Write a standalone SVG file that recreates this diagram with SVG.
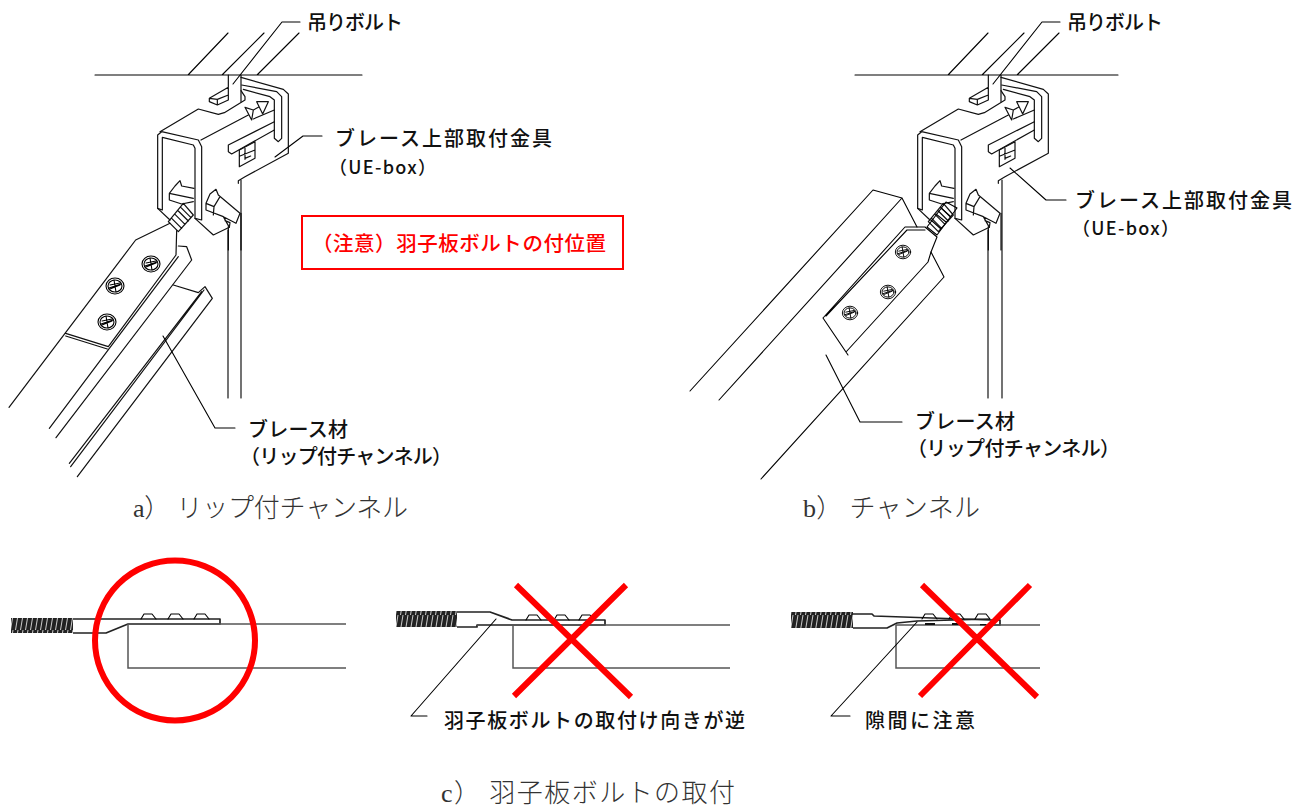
<svg xmlns="http://www.w3.org/2000/svg" width="1295" height="808" viewBox="0 0 1295 808">
<style>
.l{fill:none;stroke:#000;stroke-width:1.1;stroke-linejoin:round;stroke-linecap:round}
.h{fill:none;stroke:#222;stroke-width:1.7;stroke-linejoin:round}
.z{fill:none;stroke:#111;stroke-width:3.6;stroke-linejoin:round;stroke-linecap:round}
.g{fill:none;stroke:#555;stroke-width:1.5}
.x{stroke:#f00;stroke-width:6;fill:none}
.t{font-family:"Noto Sans CJK JP","Noto Sans",sans-serif;font-size:20px;font-weight:500;fill:#111}
.c{font-family:"Liberation Serif","Noto Sans CJK JP",serif;font-size:26px;fill:#333;font-weight:300}
.r{font-family:"Noto Sans CJK JP","Noto Sans",sans-serif;font-size:20.5px;font-weight:500;fill:#f00}
</style>
<defs>
<pattern id="th" patternUnits="userSpaceOnUse" width="5" height="15"><rect width="5" height="15" fill="#222"/><path d="M0.5 15L3 0" stroke="#ccc" stroke-width="1"/></pattern>
<g id="box" transform="translate(130 50) scale(.33333)">
<path class="z" d="M333 82L460 118L475 132V310L345 380L325 392V400"/>
<path class="z" d="M335 105L440 125L455 140V265L445 275L433 265V150L420 140L340 118"/>
<path class="z" d="M333 122L345 140V150L283 188L265 193L205 177L90 245"/>
<path class="z" d="M213 270L355 195M370 207L433 180"/>
<path class="z" d="M345 172L370 180L365 210ZM380 155L415 155L398 192ZM370 180L385 172"/>
<path class="z" d="M83 255L95 245L205 270L215 290V510L195 505V295L190 285L97 262V480L83 475V255"/>
<path class="z" d="M83 475L120 510M195 505L250 555L298 532"/>
<path class="z" d="M295 285L433 215M295 285V305L305 312L433 240"/>
<path class="z" d="M328 350V300L375 275V325L328 350M345 295V328M345 325L362 318M330 318L375 300"/>
<path class="z" d="M295 75V150M333 75V155M295 112L238 145V155L262 165V148L238 145M262 148L295 135M262 165L295 150"/>
<path class="z" d="M118 430L135 408L150 392L155 408L192 415M118 430V450L155 462L190 455M118 430L190 445"/>
<path class="z" d="M228 460L240 432L258 418L265 435L330 490L318 520L280 500L228 480ZM228 460L252 470L270 440M252 470L250 495M280 500L298 532L300 518L285 512"/>
<path class="z" d="M115 515L145 545L190 495L160 460ZM125 505L155 535M135 493L165 523M145 483L175 513M153 473L183 503"/>
<path class="z" d="M295 530V600M333 490V600"/>
</g>
<g id="screw"><ellipse rx="9" ry="8" class="l"/><ellipse rx="7" ry="6" class="l"/><path class="l" d="M-6 2L6 -2M-1 -6L1 6M-5 -1L5 -3M-5 3L5 -1"/></g>
<g id="bump"><path class="l" d="M0 6L3 1H11L15 6"/></g>
</defs>

<g id="left-assembly">
<g id="ceiling-a"><path class="l" d="M95 75H362M188 75L228 33M222 75L264 33M257 75L299 33"/></g>
<use href="#box"/>
<g id="post-a"><path class="l" d="M228 230V398M241 398V180"/></g>
<g id="bracket-a" transform="translate(0 210) scale(.33333)">
<path class="z" d="M27 592L407 90L510 40M530 62L528 135L325 410L197 370M197 378L322 417"/>
<path class="z" d="M535 108L560 110L575 150L168 683M535 140L328 415L148 655"/>
<path class="z" d="M520 225L595 248L615 230L637 265L232 800M605 245L208 760M612 240L212 770"/>
</g>
<use href="#screw" x="151" y="264"/><use href="#screw" x="115" y="286"/><use href="#screw" x="107" y="322"/>
</g>

<g id="right-assembly">
<g id="ceiling-b"><path class="l" d="M855 75H1118M948 75L988 33M982 75L1024 33M1017 75L1059 33"/></g>
<use href="#box" x="760"/>
<g id="post-b"><path class="l" d="M988 230V398M1002 398V180"/></g>
<g id="bracket-b">
<path class="l" d="M690 391L873 190L902 198L917 227M719 400L902 198"/>
<path class="l" d="M905 227H925L937 237L931 252L928 262L846 352L823 318L905 227M826 316L907 230H925M823 318L848 355"/>
<path class="l" d="M931 252L944 277L761 479"/>
<path class="l" d="M927 227L937 235L957 208L946 202ZM931 220L941 229M936 214L946 222M941 208L950 216"/>
</g>
<use href="#screw" transform="translate(903 252) scale(.85)"/><use href="#screw" transform="translate(888 292) scale(.85)"/><use href="#screw" transform="translate(850 313) scale(.85)"/>
</g>

<g id="detail-good">
<rect x="11" y="618" width="62" height="15" fill="url(#th)"/>
<path class="h" d="M73 619H220V624H128L106 633H73"/>
<path class="g" d="M128 624H346M128 624V668H346"/>
<use href="#bump" x="141" y="613"/><use href="#bump" x="168" y="613"/><use href="#bump" x="194" y="613"/>
<circle cx="175" cy="640.5" r="80" class="x"/>
</g>

<g id="detail-reversed">
<rect x="396" y="611" width="61" height="16" fill="url(#th)"/>
<path class="h" d="M457 612H490L512 620H605V625H477V627H457"/>
<path class="g" d="M477 625H730M513 625V668H730"/>
<use href="#bump" x="526" y="614"/><use href="#bump" x="554" y="614"/><use href="#bump" x="579" y="614"/>
<path class="x" d="M514 696L626 585M516 585L631 697"/>
</g>

<g id="detail-gap">
<rect x="791" y="612" width="62" height="16" fill="url(#th)"/>
<path class="h" d="M853 614H872L874 616L990 620H1000V625H980M853 628H887L897 623L917 621L990 619"/>
<path class="g" d="M896 625H1040M896 625V668H1040"/>
<path d="M925 623H935V625H925ZM952 623H960V625H952ZM980 624H986V625H980Z" fill="#111"/>
<use href="#bump" x="922" y="613"/><use href="#bump" x="949" y="613"/><use href="#bump" x="975" y="613"/>
<path class="x" d="M920 696L1030 585M922 585L1037 697"/>
</g>

<g id="connectors">
<path class="l" d="M233 84L282 22H300M275 157L303 136H322M163 336L215 428H235"/>
<path class="l" d="M993 84L1042 22H1060M1010 168L1046 200H1066M826 355L860 422H902"/>
<path class="l" d="M496 619L411 716H427M917 622L831 716H850"/>
</g>

<g id="labels">
<text class="t" x="307" y="30" textLength="96">吊りボルト</text>
<text class="t" x="1067" y="30" textLength="96">吊りボルト</text>
<text class="t" x="335" y="146" textLength="217">ブレース上部取付金具</text>
<text class="t" x="329" y="174" textLength="107" style="font-size:18px">（UE-box）</text>
<text class="t" x="1075" y="208" textLength="217">ブレース上部取付金具</text>
<text class="t" x="1072" y="235" textLength="107" style="font-size:18px">（UE-box）</text>
<text class="t" x="248" y="437" textLength="100">ブレース材</text>
<text class="t" x="240" y="464" textLength="212">（リップ付チャンネル）</text>
<text class="t" x="915" y="429" textLength="100">ブレース材</text>
<text class="t" x="907" y="456" textLength="213">（リップ付チャンネル）</text>
<text class="t" x="444" y="728" textLength="301">羽子板ボルトの取付け向きが逆</text>
<text class="t" x="865" y="728" textLength="110">隙間に注意</text>
<text class="c" x="133" y="517" textLength="275">a） リップ付チャンネル</text>
<text class="c" x="803" y="517" textLength="177">b） チャンネル</text>
<text class="c" x="441" y="802" textLength="294">c） 羽子板ボルトの取付</text>
</g>

<g id="note">
<rect x="302" y="216" width="321" height="53" fill="none" stroke="#f00" stroke-width="2"/>
<text class="r" x="312" y="251" textLength="294">（注意）羽子板ボルトの付位置</text>
</g>
</svg>
